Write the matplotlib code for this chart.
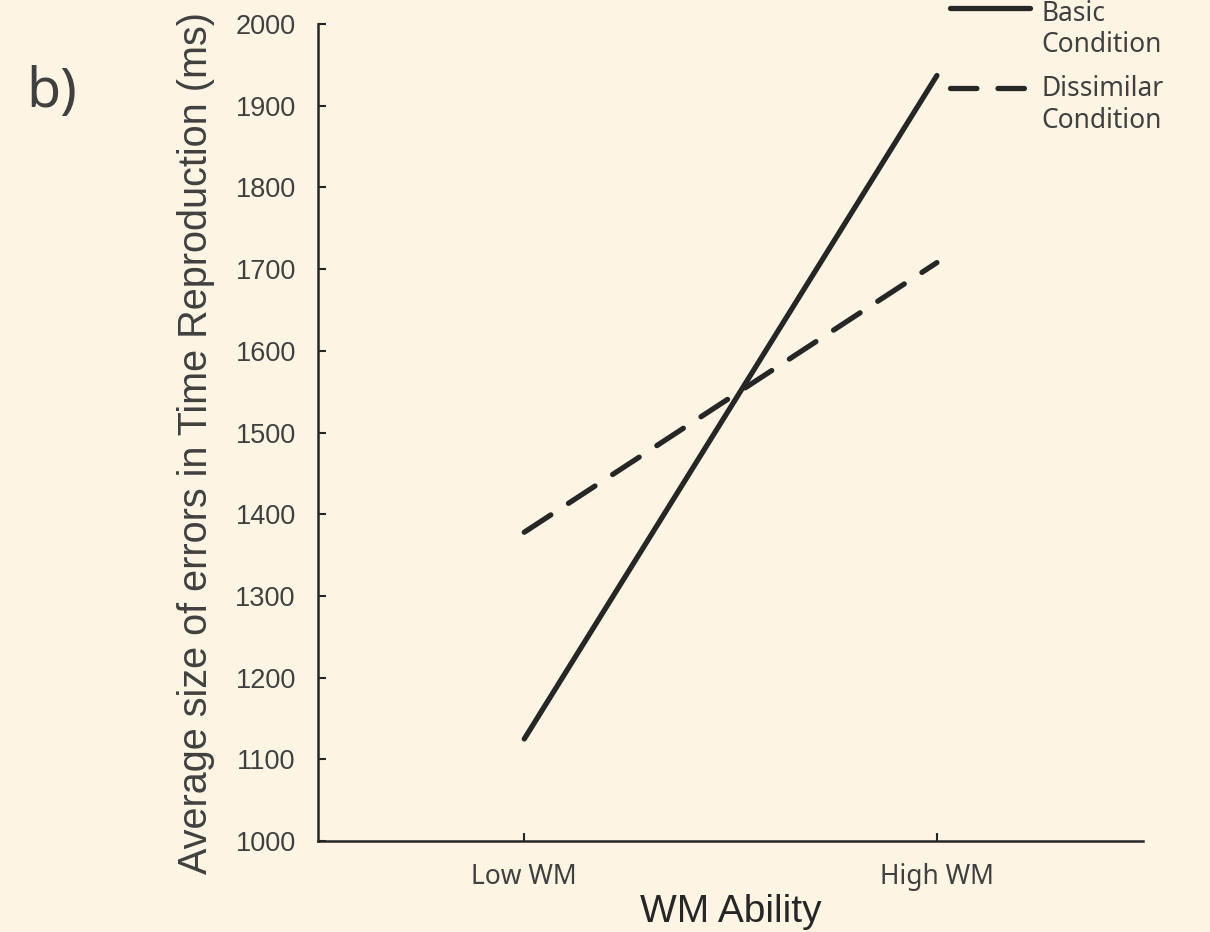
import matplotlib.pyplot as plt
from matplotlib.lines import Line2D

# data
groups = ["Low WM", "High WM"]
basic = [1125, 1937]
dissimilar = [1378, 1708]
yticks = list(range(1000, 2001, 100))

bg = "#fdf4e3"
ink = "#262626"
txt = "#404040"

fig = plt.figure(figsize=(12.1, 9.32), dpi=100, facecolor=bg)
ax = fig.add_axes([0.2628, 0.0976, 0.682, 0.8766], facecolor=bg)

x = list(range(len(groups)))
ax.plot(x, basic, color=ink, lw=3.8, solid_capstyle="round")
ax.plot(x, dissimilar, color=ink, lw=3.8, dashes=(6, 4), dash_capstyle="round")

ax.set_xlim(-0.5, 1.5)
ax.set_ylim(1000, 2000)
ax.set_yticks(yticks)
ax.set_xticks(x)
ax.set_xticklabels(groups, family="Noto Sans", fontsize=19, color=txt)
for lab in ax.get_yticklabels():
    lab.set_family("Liberation Sans")
    lab.set_fontsize(19.5)
    lab.set_color(txt)
ax.tick_params(direction="in", length=6, width=1.5, color=ink)
ax.tick_params(axis="y", pad=16)
ax.tick_params(axis="x", pad=16)
for s in ["top", "right"]:
    ax.spines[s].set_visible(False)
for s in ["left", "bottom"]:
    ax.spines[s].set_linewidth(1.8)
    ax.spines[s].set_color(ink)

ax.set_ylabel("Average size of errors in Time Reproduction (ms)",
              family="Liberation Sans", fontsize=28.5, color=txt)
ax.yaxis.set_label_coords(-0.125, 0.487)
ax.set_xlabel("WM Ability", family="Liberation Sans", fontsize=28,
              color=ink, labelpad=2)

# legend drawn by hand: the key line sits level with the first text line
legend_rows = [
    (0.9914, 0.9845, ["Basic", "Condition"], dict(solid_capstyle="round")),
    (0.9056, 0.9040, ["Dissimilar", "Condition"], dict(dashes=(5, 4), dash_capstyle="round")),
]
for y0, yt, words, style in legend_rows:
    fig.add_artist(Line2D([0.785, 0.851], [y0, y0], transform=fig.transFigure,
                          color=ink, lw=3.8, **style))
    for i, w in enumerate(words):
        fig.text(0.861, yt - i * 0.0333, w, family="Noto Sans",
                 fontsize=19, color=txt, va="center")

fig.text(0.022, 0.93, "b)", family="Noto Sans", fontsize=40, color=txt,
         va="top")

fig.savefig("out.png", dpi=100, facecolor=bg)
